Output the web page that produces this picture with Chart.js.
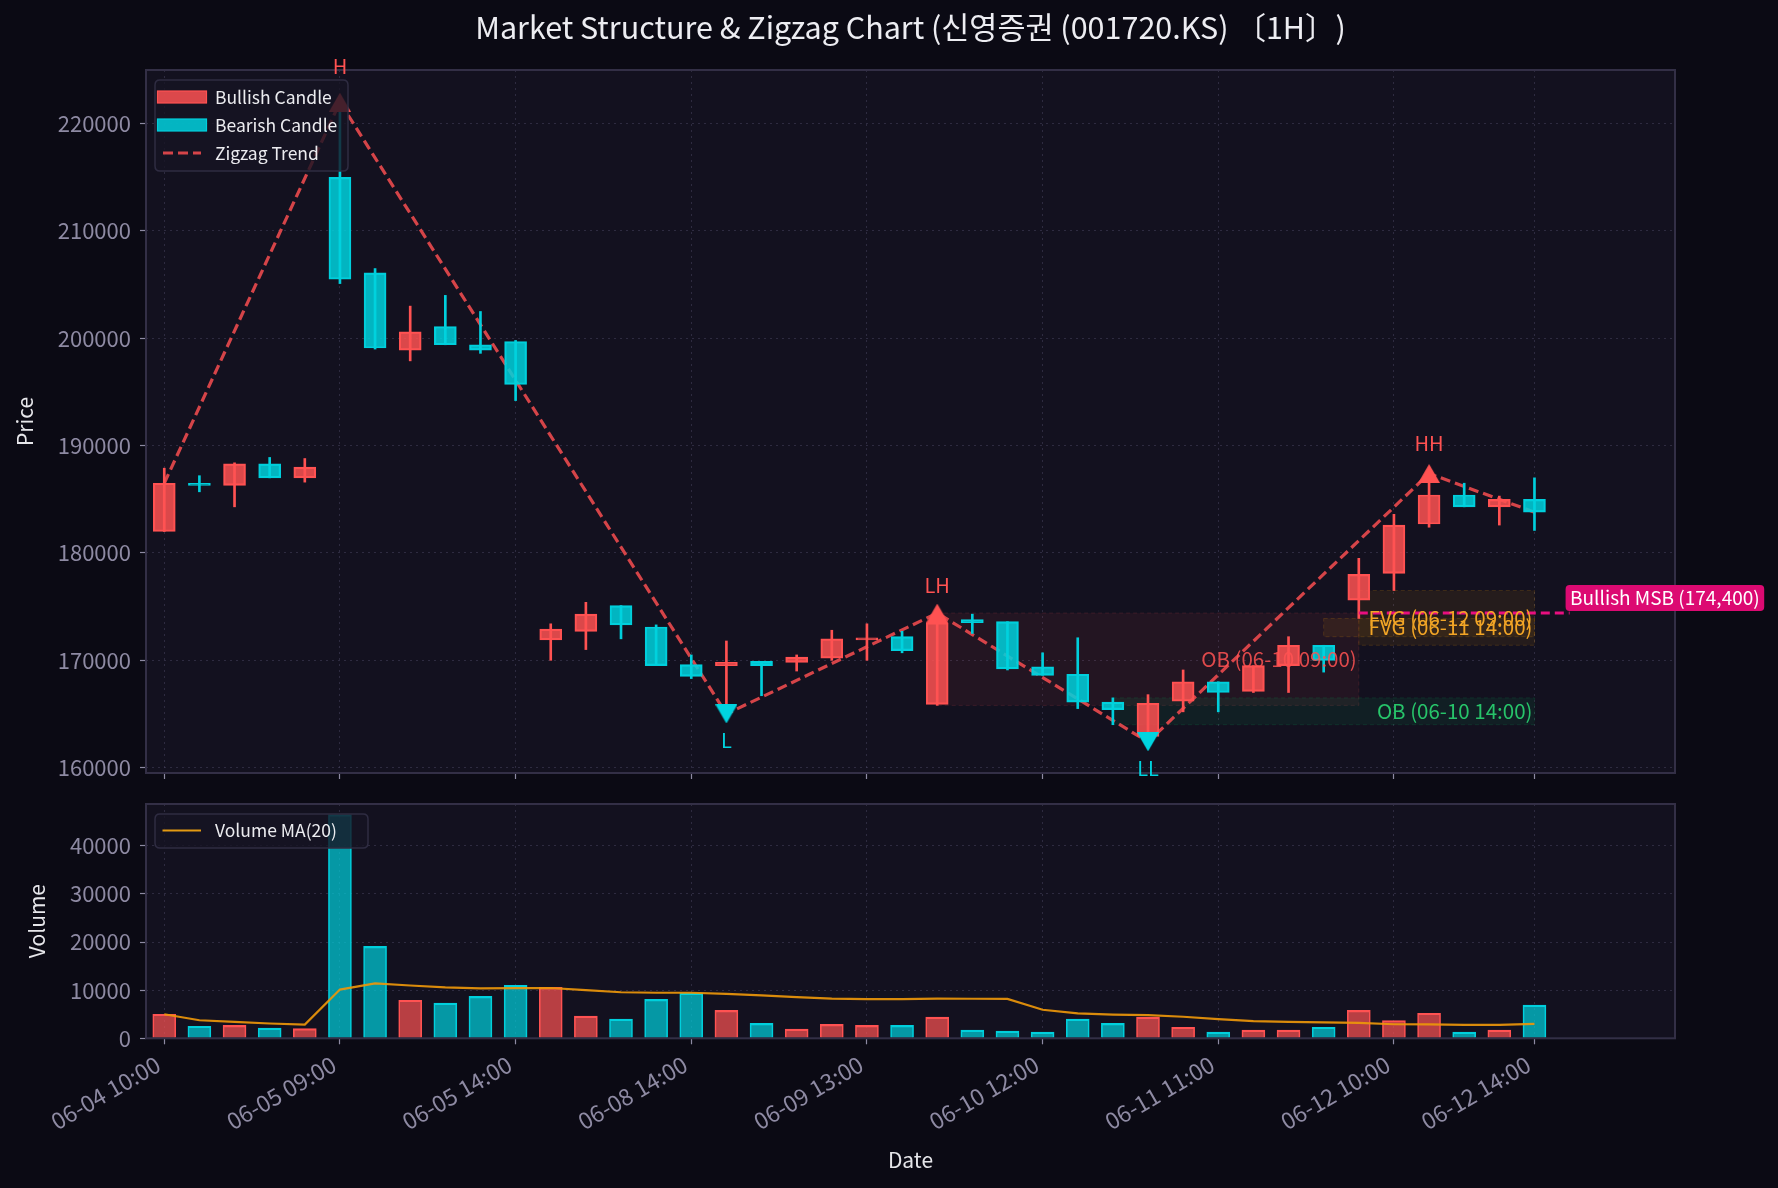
<!DOCTYPE html>
<html><head><meta charset="utf-8">
<script src="https://cdn.jsdelivr.net/npm/chart.js@4.4.1/dist/chart.umd.min.js"></script>
<style>
html,body{margin:0;padding:0;background:#0b0a14;}
body{width:1778px;height:1188px;position:relative;overflow:hidden;}
#price{position:absolute;left:0;top:0;}
#vol{position:absolute;left:0;top:790px;}
</style></head><body>
<canvas id="price" width="1778" height="790"></canvas>
<canvas id="vol" width="1778" height="398"></canvas>
<script>
// ---------------- DATA ----------------
const dates = [
  '06-04 10:00','06-04 11:00','06-04 12:00','06-04 13:00','06-04 14:00',
  '06-05 09:00','06-05 10:00','06-05 11:00','06-05 12:00','06-05 13:00','06-05 14:00',
  '06-08 10:00','06-08 11:00','06-08 12:00','06-08 13:00','06-08 14:00',
  '06-09 09:00','06-09 10:00','06-09 11:00','06-09 12:00','06-09 13:00','06-09 14:00',
  '06-10 09:00','06-10 10:00','06-10 11:00','06-10 12:00','06-10 13:00','06-10 14:00',
  '06-11 09:00','06-11 10:00','06-11 11:00','06-11 12:00','06-11 13:00','06-11 14:00',
  '06-12 09:00','06-12 10:00','06-12 11:00','06-12 12:00','06-12 13:00','06-12 14:00'
];
const opens  = [182000,186500,186300,188300,187000,215000,206100,198900,201100,199400,199700,
                171900,172700,175100,173100,169600,169500,169900,169800,170200,171900,172200,
                165900,173800,173600,169400,168700,166100,162900,166200,168000,167100,169500,171400,
                175600,178100,182700,185400,184300,185000];
const highs  = [187900,187200,188400,188900,188800,222000,206500,203000,204000,202500,199800,
                173400,175400,175100,173300,170500,171800,169900,170500,172800,173400,172700,
                174400,174300,173600,170700,172100,166500,166800,169100,168000,169500,172200,171400,
                179500,183600,187400,186500,185300,187000];
const lows   = [182000,185700,184300,187000,186600,205100,199000,197900,199400,198600,194200,
                170000,171000,172000,169500,168300,165000,166700,169000,170000,170000,170700,
                165800,172500,169100,168600,165500,164000,162400,165200,165200,167000,167000,168900,
                173900,176500,182400,184300,182600,182100];
const closes = [186500,186300,188300,187000,188000,205500,199100,200600,199400,198900,195700,
                172900,174300,173300,169500,168500,169800,169500,170300,172000,172100,170900,
                173500,173500,169200,168600,166100,165400,166000,168000,167000,169500,171400,170000,
                178000,182600,185400,184300,185000,183800];
const volumes = [5000,2500,2700,2100,2000,46500,19100,7900,7300,8700,11000,
                 10600,4600,4000,8100,9400,5800,3100,1900,2900,2700,2700,
                 4400,1700,1500,1300,4000,3100,4400,2300,1300,1700,1700,2300,
                 5800,3700,5200,1300,1700,6900];
const volumeMA = [5000,3750,3400,3075,2860,10130,11410,10980,10570,10380,10440,
                  10450,10000,9570,9470,9470,9250,8910,8540,8260,8150,8160,
                  8240,8220,8200,5940,5180,4940,4800,4480,3990,3550,3400,3320,
                  3200,2920,2890,2800,2790,2990];
const tickIdx = [0,5,10,15,20,25,30,35,39];
const priceTicks = [160000,170000,180000,190000,200000,210000,220000];
const volumeTicks = [0,10000,20000,30000,40000];

const zigzagIdx = [0,5,16,22,28,36,39];
const zigzagVal = [186500,222000,165000,174400,162400,187400,183800];
const highIdx = [5,22,36];
const highVal = [222000,174400,187400];
const highLbl = ['H','LH','HH'];
const lowIdx = [16,28];
const lowVal = [165000,162400];
const lowLbl = ['L','LL'];

const zoneLabel = ['OB (06-10 09:00)','OB (06-10 14:00)','FVG (06-11 14:00)','FVG (06-12 09:00)'];
const zoneType  = ['bear','bull','fvg','fvg'];
const zoneStart = [22,27,33,34];
const zoneEnd   = [34,39,39,39];
const zoneLow   = [165800,164000,172200,171400];
const zoneHigh  = [174400,166500,173900,176500];

const msbIdx = [34,40];
const msbLevel = 174400;
const msbText = 'Bullish MSB (174,400)';
const titleText = 'Market Structure & Zigzag Chart (신영증권 (001720.KS) 〔1H〕)';

// ---------------- STYLE ----------------
const FONT = "'Noto Sans CJK KR','Noto Sans',sans-serif";
Chart.defaults.font.family = FONT;
Chart.defaults.color = '#8e8aa3';
const BULL = '#ff5252', BEAR = '#00cfdc';
const BULL_FILL = 'rgba(255,82,82,0.85)', BEAR_FILL = 'rgba(0,210,222,0.85)';
const VBULL = 'rgba(255,82,82,0.7)', VBEAR = 'rgba(0,210,222,0.7)';
const PLOT_BG = '#13111f', FRAME = '#332f46', GRID = 'rgba(80,76,105,0.45)', TICKC = '#8e8aa3';
const ZIG = 'rgba(240,75,78,0.88)';
const ZC = {
  bear:{fill:'rgba(255,82,82,0.07)', edge:'rgba(255,82,82,0.14)', text:'rgba(255,82,82,0.85)'},
  bull:{fill:'rgba(0,200,100,0.08)', edge:'rgba(0,200,100,0.14)', text:'#27c46a'},
  fvg:{fill:'rgba(255,165,0,0.08)', edge:'rgba(255,165,0,0.16)', text:'#f2a526'}
};
const isBull = i => closes[i] >= opens[i];

function tri(color, down){
  const w=22,h=19,c=document.createElement('canvas');c.width=w;c.height=h;
  const g=c.getContext('2d');g.fillStyle=color;g.beginPath();
  if(!down){g.moveTo(w/2,0);g.lineTo(w,h);g.lineTo(0,h);}else{g.moveTo(0,0);g.lineTo(w,0);g.lineTo(w/2,h);}
  g.closePath();g.fill();return c;
}
const triUp = tri('#ff5252',false), triDown = tri('#00d4e0',true);

function rrect(ctx,x,y,w,h,r){ctx.beginPath();ctx.moveTo(x+r,y);ctx.lineTo(x+w-r,y);ctx.quadraticCurveTo(x+w,y,x+w,y+r);
  ctx.lineTo(x+w,y+h-r);ctx.quadraticCurveTo(x+w,y+h,x+w-r,y+h);ctx.lineTo(x+r,y+h);ctx.quadraticCurveTo(x,y+h,x,y+h-r);
  ctx.lineTo(x,y+r);ctx.quadraticCurveTo(x,y,x+r,y);ctx.closePath();}

function xScaleOpts(showLabels, h){
  return {
    type:'linear', min:-0.52, max:43, offset:false,
    afterBuildTicks: s => { s.ticks = tickIdx.map(v=>({value:v})); },
    afterFit: s => { s.height = h; s.paddingLeft = 0; s.paddingRight = 0; s.paddingTop = 0; s.paddingBottom = 0; },
    ticks:{display:showLabels, autoSkip:false, minRotation:30, maxRotation:30, padding:6, labelOffset:-6,
      color:TICKC, font:{size:23}, callback: v => dates[v] ?? ''},
    grid:{color:GRID, lineWidth:1, offset:false, tickLength:6, tickColor:TICKC, tickWidth:1.2},
    border:{display:false, dash:[2,4]}
  };
}
function yScaleOpts(min,max,tickVals,title,titlePad){
  return {
    type:'linear', min, max,
    afterBuildTicks: s => { s.ticks = tickVals.map(v=>({value:v})); },
    afterFit: s => { s.width = 146; s.paddingTop = 0; s.paddingBottom = 0; s.paddingLeft = 0; s.paddingRight = 0; },
    ticks:{color:TICKC, font:{size:22}, padding:9, callback: v => String(v)},
    grid:{color:GRID, lineWidth:1, tickLength:6, tickColor:TICKC, tickWidth:1.2},
    border:{display:false, dash:[2,4]},
    title:{display:true, text:title, color:'#e6e6ea', font:{size:21}, padding:{top:titlePad,bottom:0}}
  };
}
const bgPlugin = {id:'bg', beforeDraw(chart){const {ctx,chartArea:a}=chart;ctx.save();ctx.fillStyle=PLOT_BG;ctx.fillRect(a.left,a.top,a.width,a.height);ctx.restore();}};
function drawFrame(chart){const {ctx,chartArea:a}=chart;ctx.save();ctx.strokeStyle=FRAME;ctx.lineWidth=2;ctx.strokeRect(a.left,a.top,a.width,a.height);ctx.restore();}
function legendBox(ctx,x,y,w,h){ctx.save();rrect(ctx,x,y,w,h,5);ctx.fillStyle='rgba(22,20,35,0.8)';ctx.fill();ctx.strokeStyle='#2f2c42';ctx.lineWidth=1.5;ctx.stroke();ctx.restore();}

// ---------------- PRICE CHART ----------------
const pricePlugin = {
  id:'priceDecor',
  beforeDatasetsDraw(chart){
    const {ctx,scales:{x,y}}=chart; ctx.save();
    zoneStart.forEach((s,k)=>{
      const x0=x.getPixelForValue(s),x1=x.getPixelForValue(zoneEnd[k]);
      const y0=y.getPixelForValue(zoneHigh[k]),y1=y.getPixelForValue(zoneLow[k]);
      const c=ZC[zoneType[k]];
      ctx.fillStyle=c.fill;ctx.fillRect(x0,y0,x1-x0,y1-y0);
      ctx.setLineDash([4,3]);ctx.strokeStyle=c.edge;ctx.lineWidth=1;ctx.strokeRect(x0,y0,x1-x0,y1-y0);
    });
    ctx.restore();
  },
  afterDatasetsDraw(chart){
    drawFrame(chart);
    const {ctx,scales:{x,y}}=chart; ctx.save();
    ctx.font='20.5px '+FONT; ctx.textAlign='right'; ctx.textBaseline='middle';
    zoneStart.forEach((s,k)=>{
      ctx.fillStyle=ZC[zoneType[k]].text;
      ctx.fillText(zoneLabel[k], x.getPixelForValue(zoneEnd[k])-2, y.getPixelForValue((zoneLow[k]+zoneHigh[k])/2));
    });
    ctx.font='20px '+FONT; ctx.textAlign='center';
    highIdx.forEach((i,k)=>{ctx.fillStyle='#ff5252';ctx.fillText(highLbl[k],x.getPixelForValue(i),y.getPixelForValue(highVal[k]*1.015));});
    lowIdx.forEach((i,k)=>{ctx.fillStyle='#00d4e0';ctx.fillText(lowLbl[k],x.getPixelForValue(i),y.getPixelForValue(lowVal[k]*0.985));});
    // MSB label
    const lx=x.getPixelForValue(msbIdx[1]), ly=y.getPixelForValue(msbLevel);
    ctx.font='19px '+FONT; const tw=ctx.measureText(msbText).width;
    rrect(ctx,lx-4,ly-28,tw+9,26,4); ctx.fillStyle='#dc0a72'; ctx.fill();
    ctx.fillStyle='#ffffff'; ctx.textAlign='left'; ctx.fillText(msbText,lx+0.5,ly-15);
    ctx.restore();
  },
  afterDraw(chart){
    const {ctx,chartArea:a}=chart; const L=a.left+9, T=a.top+10;
    legendBox(ctx,L,T,193,91);
    ctx.save();
    const rows=[T+17,T+45,T+73];
    ctx.fillStyle=BULL_FILL;ctx.fillRect(L+2.5,rows[0]-6,49,12);ctx.strokeStyle=BULL;ctx.lineWidth=1.2;ctx.strokeRect(L+2.5,rows[0]-6,49,12);
    ctx.fillStyle=BEAR_FILL;ctx.fillRect(L+2.5,rows[1]-6,49,12);ctx.strokeStyle=BEAR;ctx.strokeRect(L+2.5,rows[1]-6,49,12);
    ctx.strokeStyle=ZIG;ctx.lineWidth=3.2;ctx.setLineDash([10,5]);
    ctx.beginPath();ctx.moveTo(L+8,rows[2]);ctx.lineTo(L+46,rows[2]);ctx.stroke();ctx.setLineDash([]);
    ctx.fillStyle='#ececf0';ctx.font='17.5px '+FONT;ctx.textAlign='left';ctx.textBaseline='middle';
    ['Bullish Candle','Bearish Candle','Zigzag Trend'].forEach((t,k)=>ctx.fillText(t,L+60,rows[k]));
    ctx.restore();
  }
};

new Chart(document.getElementById('price'),{
  type:'bar',
  data:{datasets:[
    {type:'line',label:'Zigzag Trend',data:zigzagIdx.map((xv,k)=>({x:xv,y:zigzagVal[k]})),
     borderColor:ZIG,borderWidth:3.2,borderDash:[10,5],pointRadius:0,order:6},
    {type:'bar',label:'Wicks',data:dates.map((d,i)=>({x:i,y:[lows[i],highs[i]]})),
     backgroundColor:dates.map((d,i)=>isBull(i)?BULL:BEAR),barThickness:2,grouped:false,order:5},
    {type:'bar',label:'Candles',data:dates.map((d,i)=>({x:i,y:[opens[i],closes[i]]})),
     backgroundColor:dates.map((d,i)=>isBull(i)?BULL_FILL:BEAR_FILL),
     borderColor:dates.map((d,i)=>isBull(i)?BULL:BEAR),borderWidth:1.5,borderSkipped:false,
     barThickness:22,grouped:false,order:4},
    {type:'line',label:'MSB',data:msbIdx.map(xv=>({x:xv,y:msbLevel})),borderColor:'#e80f80',
     borderWidth:3,borderDash:[9,5],pointRadius:0,order:3},
    {type:'line',label:'Swing High',data:highIdx.map((xv,k)=>({x:xv,y:highVal[k]})),showLine:false,
     pointStyle:triUp,pointRadius:10,order:1},
    {type:'line',label:'Swing Low',data:lowIdx.map((xv,k)=>({x:xv,y:lowVal[k]})),showLine:false,
     pointStyle:triDown,pointRadius:10,order:1}
  ]},
  options:{
    responsive:false, animation:false, events:[],
    layout:{padding:{left:0,right:103,top:0,bottom:0}},
    plugins:{legend:{display:false},tooltip:{enabled:false},
      title:{display:true,text:titleText,color:'#ededf2',font:{size:30.5,weight:'normal'},
        padding:{top:9,bottom:24.4},fullSize:false}},
    scales:{
      x:xScaleOpts(false,17),
      y:yScaleOpts(159500,225000,priceTicks,'Price',12)
    }
  },
  plugins:[bgPlugin,pricePlugin]
});

// ---------------- VOLUME CHART ----------------
const volPlugin = {
  id:'volDecor',
  afterDatasetsDraw(chart){ drawFrame(chart); },
  afterDraw(chart){
    const {ctx,chartArea:a}=chart; const L=a.left+9,T=a.top+10;
    legendBox(ctx,L,T,213,34);
    ctx.save();
    ctx.strokeStyle='#e39a12';ctx.lineWidth=2;ctx.beginPath();ctx.moveTo(L+7.5,T+16.5);ctx.lineTo(L+46,T+16.5);ctx.stroke();
    ctx.fillStyle='#ececf0';ctx.font='17.5px '+FONT;ctx.textAlign='left';ctx.textBaseline='middle';
    ctx.fillText('Volume MA(20)',L+60,T+16.5);
    ctx.restore();
  }
};
new Chart(document.getElementById('vol'),{
  type:'bar',
  data:{datasets:[
    {type:'line',label:'Volume MA(20)',data:volumeMA.map((v,i)=>({x:i,y:v})),borderColor:'rgba(235,150,10,0.92)',
     borderWidth:2.2,pointRadius:0,order:1},
    {type:'bar',label:'Volume',data:volumes.map((v,i)=>({x:i,y:v})),
     backgroundColor:volumes.map((v,i)=>isBull(i)?VBULL:VBEAR),
     borderColor:volumes.map((v,i)=>isBull(i)?BULL:BEAR),
     borderWidth:{top:1.5,left:1,right:1,bottom:0},borderSkipped:false,barThickness:23,grouped:false,order:2}
  ]},
  options:{
    responsive:false, animation:false, events:[],
    layout:{padding:{left:0,right:103,top:14,bottom:0}},
    plugins:{legend:{display:false},tooltip:{enabled:false}},
    scales:{
      x:Object.assign(xScaleOpts(true,149.7),{title:{display:true,text:'Date',color:'#e6e6ea',font:{size:21},padding:{top:0,bottom:15}}}),
      y:yScaleOpts(0,48700,volumeTicks,'Volume',24.5)
    }
  },
  plugins:[bgPlugin,volPlugin]
});
</script>
</body></html>
